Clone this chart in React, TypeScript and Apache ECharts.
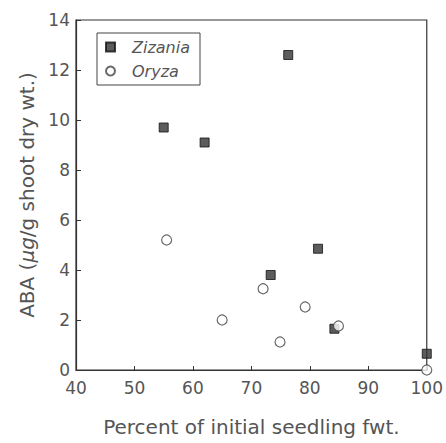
import React, { useEffect, useRef } from "react";
import * as echarts from "echarts";

const zizaniaX = [55, 62, 76.3, 81.4, 73.3, 84.2, 100];
const zizaniaY = [9.7, 9.1, 12.6, 4.85, 3.8, 1.65, 0.65];
const oryzaX = [55.5, 65, 72, 74.9, 79.2, 84.9, 100];
const oryzaY = [5.2, 2.0, 3.25, 1.12, 2.52, 1.76, 0.0];
const seriesNames = ["Zizania", "Oryza"];
const xTitle = "Percent of initial seedling fwt.";

const pairs = (xs: number[], ys: number[]) => xs.map((x, i) => [x, ys[i]]);

export default function App() {
  const ref = useRef<HTMLDivElement>(null);
  useEffect(() => {
    if (!ref.current) return;
    const chart = echarts.init(ref.current, null, { renderer: "svg" });
    const font = "DejaVu Sans";
    const grey = "#555";
    chart.setOption({
      animation: false,
      backgroundColor: "#fff",
      grid: {
        left: 76,
        top: 20,
        right: 16,
        bottom: 73,
        show: true,
        borderColor: "#333",
        borderWidth: 1.2,
      },
      legend: {
        orient: "vertical",
        left: 97,
        top: 33,
        borderColor: "#444",
        borderWidth: 1,
        padding: [6, 10, 6, 8],
        itemGap: 8,
        itemWidth: 9,
        itemHeight: 9,
        textStyle: {
          fontFamily: font,
          fontStyle: "italic",
          fontSize: 16,
          color: grey,
          padding: [0, 0, 0, 12],
        },
        data: [
          { name: seriesNames[0], icon: "rect" },
          { name: seriesNames[1], icon: "circle" },
        ],
      },
      xAxis: {
        type: "value",
        min: 40,
        max: 100,
        interval: 10,
        name: xTitle,
        nameLocation: "middle",
        nameGap: 47,
        nameTextStyle: { fontFamily: font, fontSize: 20, color: grey },
        axisLine: { lineStyle: { color: "#333", width: 1.2 } },
        axisTick: { inside: true, length: 4, lineStyle: { color: "#333" } },
        axisLabel: { fontFamily: font, fontSize: 17, color: grey, margin: 9 },
        splitLine: { show: false },
      },
      yAxis: {
        type: "value",
        min: 0,
        max: 14,
        interval: 2,
        name: "{n|ABA (}{i|μg}{n|/g shoot dry wt.)}",
        nameLocation: "middle",
        nameGap: 38,
        nameTextStyle: {
          fontFamily: font,
          fontSize: 20,
          color: grey,
          rich: {
            n: { fontFamily: font, fontSize: 20, color: grey },
            i: { fontFamily: font, fontSize: 20, color: grey, fontStyle: "italic" },
          },
        },
        axisLine: { lineStyle: { color: "#333", width: 1.2 } },
        axisTick: { inside: true, length: 5, lineStyle: { color: "#333" } },
        axisLabel: { fontFamily: font, fontSize: 17, color: grey, margin: 6 },
        splitLine: { show: false },
      },
      series: [
        {
          name: seriesNames[0],
          type: "scatter",
          symbol: "rect",
          symbolSize: 9,
          itemStyle: { color: "#333", borderColor: "#111", borderWidth: 1 },
          data: pairs(zizaniaX, zizaniaY),
        },
        {
          name: seriesNames[1],
          type: "scatter",
          symbol: "circle",
          symbolSize: 10,
          itemStyle: { color: "#fff", borderColor: "#444", borderWidth: 1.2 },
          data: pairs(oryzaX, oryzaY),
        },
      ],
    });
    return () => chart.dispose();
  }, []);
  return (
    <div
      ref={ref}
      style={{ position: "fixed", left: 0, top: 0, width: 446, height: 443 }}
    />
  );
}
